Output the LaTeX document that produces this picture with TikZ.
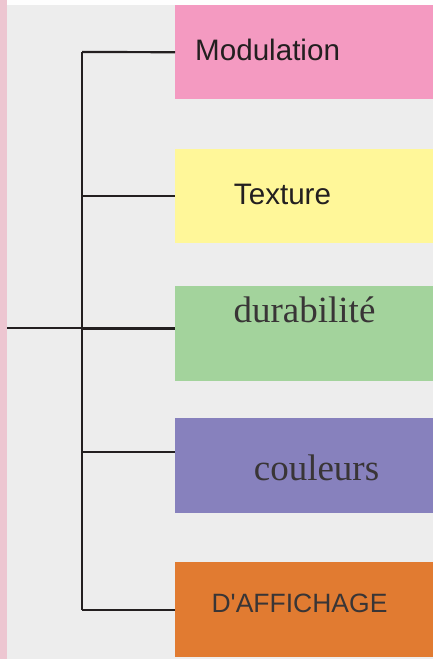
\documentclass[tikz,border=0pt]{standalone}
\usepackage{fontspec}
\setmainfont{Liberation Serif}
\setsansfont{Liberation Sans}
\newfontfamily\plainsans{Liberation Sans}
\definecolor{bggray}{HTML}{EDEDED}
\definecolor{edgepink}{HTML}{EDC6D1}
\definecolor{boxpink}{HTML}{F49AC1}
\definecolor{boxyellow}{HTML}{FFF799}
\definecolor{boxgreen}{HTML}{A3D39C}
\definecolor{boxpurple}{HTML}{8781BD}
\definecolor{boxorange}{HTML}{E17B31}
\definecolor{ink}{HTML}{231F20}
\tikzset{
  catbox/.style={draw=none,minimum width=258pt,minimum height=94pt,inner sep=0pt,anchor=north west},
  sanslabel/.style={font=\sffamily\fontsize{29.6}{29.6}\selectfont,text=ink,inner sep=0pt},
  seriflabel/.style={font=\fontsize{37}{37}\selectfont,text=ink!90,inner sep=0pt},
  branch/.style={draw=ink,line width=2.2pt}
}
\begin{document}
\begin{tikzpicture}[x=1pt,y=-1pt]
\useasboundingbox (0,0) rectangle (433,659);
\fill[bggray] (0,0) rectangle (433,659);
\fill[white!97!bggray] (0,0) rectangle (433,5);
\fill[edgepink] (0,0) rectangle (7,659);

% boxes
\node[catbox,fill=boxpink] (modu) at (175,5) {};
\node[catbox,fill=boxyellow] (text) at (175,149) {};
\node[catbox,fill=boxgreen,minimum height=95pt] (dura) at (175,286) {};
\node[catbox,fill=boxpurple,minimum height=95pt] (coul) at (175,418) {};
\node[catbox,fill=boxorange,minimum height=95pt] (affi) at (175,562) {};

% labels
\node[sanslabel,anchor=base west] (lmodu) at (195,60) {Modulation};
\node[sanslabel,anchor=base] (ltext) at (282.5,204) {Texture};
\node[seriflabel,anchor=base] (ldura) at (304.5,322) {durabilité};
\node[seriflabel,anchor=base] (lcoul) at (316.5,480) {couleurs};
\node[sanslabel,anchor=base,text=ink!90,font=\plainsans\fontsize{26.5}{26.5}\selectfont] (laffi) at (299.5,612.5) {D'AFFICHAGE};

% tree
\coordinate (root) at (7,328);
\coordinate (spine) at (82,328);
\coordinate (top) at (82,52);
\coordinate (bottom) at (82,610);
\coordinate (bcoul) at (82,452);

\draw[branch,line width=2.6pt] (top) -- (bottom);
\draw[branch] (root) -- (spine);
\draw[branch,line width=3pt] (spine) -- (spine -| dura.west);
\draw[branch] (top) -- (modu.west);
\draw[branch] (spine |- text.west) -- (text.west);
\draw[branch] (bcoul) -- (bcoul -| coul.west);
\draw[branch] (bottom) -- (bottom -| affi.west);
\end{tikzpicture}
\end{document}
